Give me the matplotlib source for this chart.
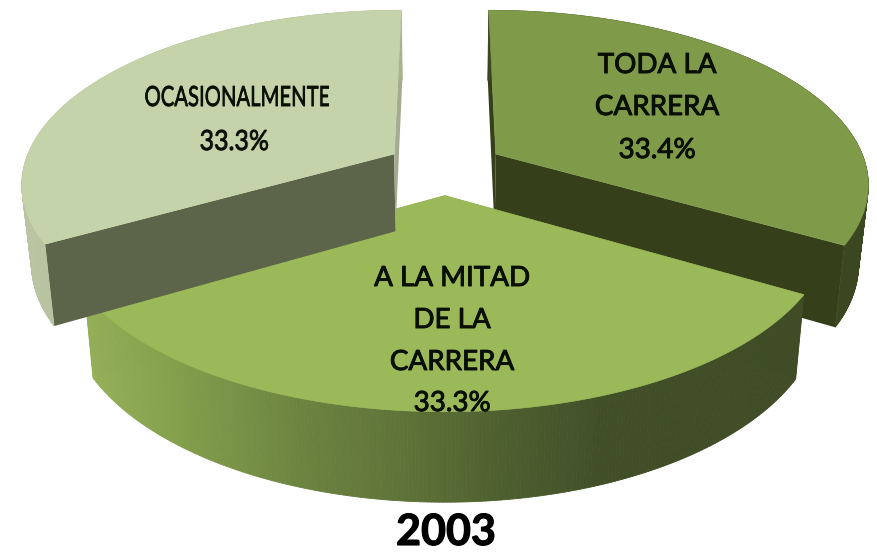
import matplotlib
matplotlib.use("Agg")
import matplotlib.pyplot as plt
import matplotlib.patheffects as pe
from matplotlib.colors import to_rgb
from matplotlib.patches import Polygon
import numpy as np

# Data
categories = ["TODA LA\nCARRERA", "A LA MITAD\nDE LA\nCARRERA", "OCASIONALMENTE"]
values = [33.4, 33.3, 33.3]
pct_labels = ["33.4%", "33.3%", "33.3%"]
year = "2003"

# Colours per slice
top_colors = ["#7f9b49", "#9bb959", "#c4d3a9"]
start_face_colors = ["#353f1a", "#55662f", "#5c6449"]
end_face_colors = ["#353f1a", "#55662f", "#a4ac90"]
wall_stops = [
    [(0.0, "#3a4720"), (1.0, "#3a4720")],
    [(0.0, "#95b058"), (0.12, "#83a04c"), (0.3, "#6c8340"), (0.44, "#5f7338"),
     (0.58, "#4e5f2f"), (0.72, "#414f27"), (1.0, "#3f4c26")],
    [(0.0, "#b9c4a2"), (1.0, "#a8b48e")],
]

# Fake 3d camera, screen pixels
CX, HORIZON = 445.0, 167.5
RADIUS, SQUASH = 371.0, 171.0
PERSP = 0.162
EXPLODE = 0.16
DEPTH, BOTTOM_SCALE = 78.0, 0.977


def project(px, py, bottom=False):
    w = 1 + PERSP * py
    scale = BOTTOM_SCALE if bottom else 1.0
    x = CX + RADIUS * px / w * scale
    y = HORIZON - SQUASH * py / w * scale
    if bottom:
        y = y + DEPTH / w
    return x, y


def slice_points(mid, angles, bottom=False):
    px = EXPLODE * np.cos(mid) + np.cos(angles)
    py = EXPLODE * np.sin(mid) + np.sin(angles)
    return project(px, py, bottom)


def apex(mid, bottom=False):
    return project(EXPLODE * np.cos(mid), EXPLODE * np.sin(mid), bottom)


def squeeze(factor):
    # narrows the drawn text, the reference has its letters jammed together
    def _filter(img, dpi):
        h, w = img.shape[:2]
        pos = np.arange(w) / factor - w * (1 / factor - 1) / 2
        out = np.zeros_like(img)
        for c in range(img.shape[2]):
            for row in range(h):
                out[row, :, c] = np.interp(pos, np.arange(w), img[row, :, c], left=0, right=0)
        return out, 0, 0
    return _filter


fig = plt.figure(figsize=(8.77, 5.52), dpi=100)
ax = fig.add_axes([0, 0, 1, 1])
ax.set_xlim(0, 877)
ax.set_ylim(552, 0)
ax.axis("off")

fracs = np.array(values) / sum(values)
ends = np.pi / 2 - 2 * np.pi * np.cumsum(fracs)
starts = ends + 2 * np.pi * fracs

# back slices first, the front one covers them
for i in [2, 0, 1]:
    mid = (starts[i] + ends[i]) / 2
    angles = np.linspace(starts[i], ends[i], 241)
    tx, ty = slice_points(mid, angles)
    bx, by = slice_points(mid, angles, bottom=True)

    # the two cut faces
    a_top = apex(mid)
    a_bot = apex(mid, bottom=True)
    ax.add_patch(Polygon([a_top, (tx[0], ty[0]), (bx[0], by[0]), a_bot], closed=True,
                         fc=start_face_colors[i], ec="none", zorder=i + 1))
    ax.add_patch(Polygon([a_top, (tx[-1], ty[-1]), (bx[-1], by[-1]), a_bot], closed=True,
                         fc=end_face_colors[i], ec="none", zorder=i + 1))

    # outer wall with the gradient, in thin strips
    stops = wall_stops[i]
    pos = [s[0] for s in stops]
    rgb = np.array([to_rgb(s[1]) for s in stops])
    lo, hi = tx.min(), tx.max()
    for j in range(len(angles) - 1):
        f = ((tx[j] + tx[j + 1]) / 2 - lo) / (hi - lo)
        col = [np.interp(f, pos, rgb[:, c]) for c in range(3)]
        quad = [(tx[j], ty[j]), (tx[j + 1], ty[j + 1]), (bx[j + 1], by[j + 1]), (bx[j], by[j])]
        ax.add_patch(Polygon(quad, closed=True, fc=col, ec=col, lw=0.6, zorder=i + 1))

    # top surface
    ax.add_patch(Polygon([a_top] + list(zip(tx, ty)), closed=True,
                         fc=top_colors[i], ec=top_colors[i], lw=0.5, zorder=i + 1))

# Labels
font = ["Lato", "DejaVu Sans"]
ink = "#0a0f05"
heavy = [pe.withStroke(linewidth=0.7, foreground=ink)]
txt = dict(ha="center", va="center", fontsize=20, color=ink, family=font, zorder=10,
           path_effects=heavy)

for k, line in enumerate(categories[0].split("\n")):
    ax.text(657, 65 + 42 * k, line, **txt)
ax.text(657, 150, pct_labels[0], **txt)
for k, line in enumerate(categories[1].split("\n")):
    ax.text(452, 278 + 42 * k, line, **txt)
ax.text(452, 403, pct_labels[1], **txt)
t1 = ax.text(237, 98, categories[2], **txt)
t1.set_agg_filter(squeeze(0.73))
t2 = ax.text(234, 142, pct_labels[2], **txt)
t2.set_agg_filter(squeeze(0.9))
ax.text(446, 532, year, ha="center", va="center", fontsize=31, fontweight="bold",
        color="black", family=font, zorder=10, path_effects=[pe.withStroke(linewidth=0.8, foreground="black")])

fig.savefig("out.png", dpi=100)
